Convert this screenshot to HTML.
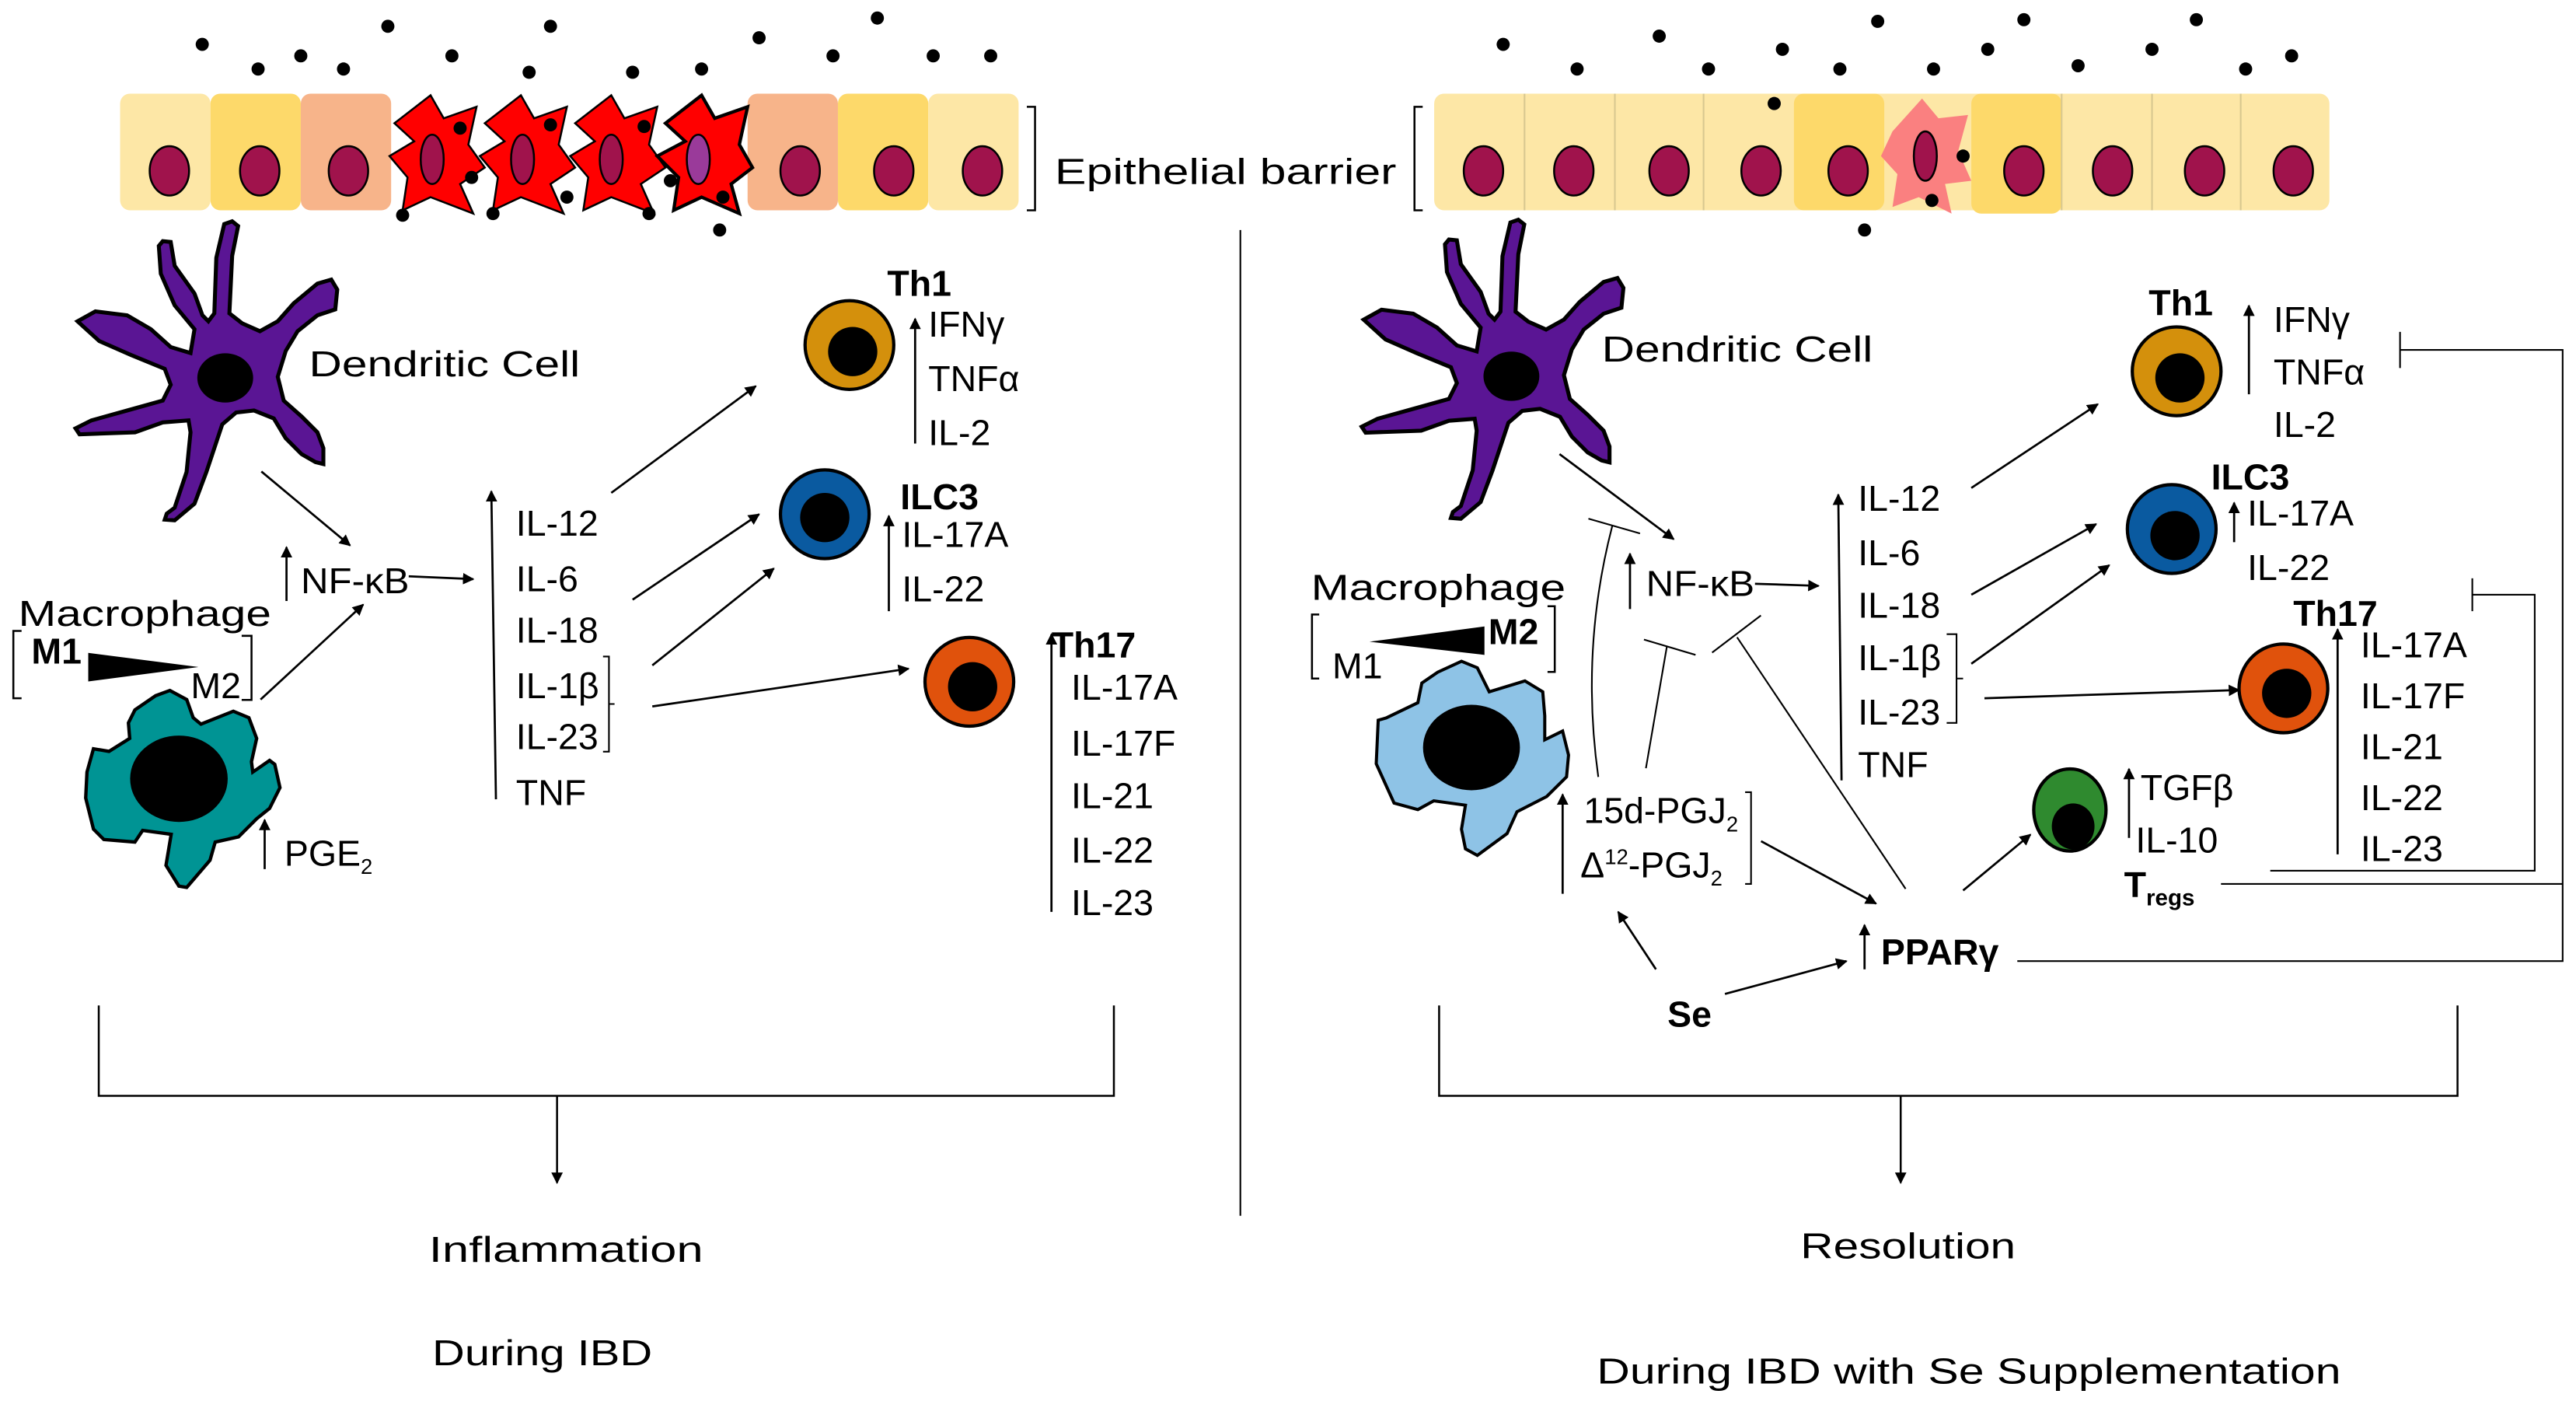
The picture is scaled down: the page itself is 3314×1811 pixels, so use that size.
<!DOCTYPE html>
<html><head><style>
html,body{margin:0;padding:0;background:#fff;}
svg{display:block;}
text{font-family:"Liberation Sans","DejaVu Sans",sans-serif;font-size:22px;fill:#000;}
.b{font-weight:bold;}
</style></head><body>
<svg width="3314" height="1811" viewBox="0 0 1568 857" xmlns="http://www.w3.org/2000/svg">
<defs>
<marker id="a" viewBox="0 0 10 10" refX="9" refY="5" markerWidth="7" markerHeight="7" orient="auto-start-reverse" markerUnits="userSpaceOnUse"><path d="M0,0L10,5L0,10z" fill="#000"/></marker>
<path id="dc" d="M585,68 L600,80 L585,155 L578,300 L610,325 L655,345 L700,320 L740,275 L800,225 L835,215 L850,240 L845,290 L800,305 L750,345 L720,395 L700,460 L715,520 L760,560 L800,600 L815,640 L815,680 L795,675 L760,655 L720,615 L690,565 L640,545 L595,550 L560,580 L520,700 L490,780 L440,822 L415,820 L420,805 L440,790 L470,700 L480,600 L475,570 L410,575 L340,600 L200,605 L190,590 L230,570 L320,545 L410,520 L430,480 L415,440 L330,405 L250,370 L195,320 L240,295 L320,305 L380,340 L430,385 L480,400 L490,340 L440,280 L405,200 L400,130 L410,118 L430,120 L440,180 L490,250 L510,305 L525,320 L540,300 L545,160 L565,75z"/>
</defs>
<g stroke="#000" stroke-width="1.2">
<rect x="73" y="57" width="55" height="71" rx="6" fill="#fde7a6" stroke="none"/>
<rect x="128" y="57" width="55" height="71" rx="6" fill="#fdd96a" stroke="none"/>
<rect x="183" y="57" width="55" height="71" rx="6" fill="#f7b48a" stroke="none"/>
<rect x="455" y="57" width="55" height="71" rx="6" fill="#f7b48a" stroke="none"/>
<rect x="510" y="57" width="55" height="71" rx="6" fill="#fdd96a" stroke="none"/>
<rect x="565" y="57" width="55" height="71" rx="6" fill="#fde7a6" stroke="none"/>
<g fill="#ff0000">
<path d="M240,75 L262,58 L270,72 L290,65 L285,88 L295,102 L280,112 L288,130 L262,120 L245,128 L248,108 L237,95 L252,86z"/>
<path d="M295,75 L317,58 L325,72 L345,65 L340,88 L350,102 L335,112 L343,130 L317,120 L300,128 L303,108 L292,95 L307,86z"/>
<path d="M350,75 L372,58 L380,72 L400,65 L395,88 L405,102 L390,112 L398,130 L372,120 L355,128 L358,108 L347,95 L362,86z"/>
<path d="M405,75 L427,58 L435,72 L455,65 L450,88 L458,102 L445,112 L450,130 L427,120 L410,128 L413,108 L400,95 L417,86z" stroke-width="2"/>
</g>
<g fill="#a0134c">
<ellipse cx="103" cy="104" rx="12" ry="15"/><ellipse cx="158" cy="104" rx="12" ry="15"/><ellipse cx="212" cy="104" rx="12" ry="15"/>
<ellipse cx="263" cy="97" rx="7" ry="15"/><ellipse cx="318" cy="97" rx="7" ry="15"/><ellipse cx="372" cy="97" rx="7" ry="15"/><ellipse cx="425" cy="97" rx="7" ry="15" fill="#9a3a9a"/>
<ellipse cx="487" cy="104" rx="12" ry="15"/><ellipse cx="544" cy="104" rx="12" ry="15"/><ellipse cx="598" cy="104" rx="12" ry="15"/>
</g>
<rect x="873" y="57" width="545" height="71" rx="6" fill="#fde7a6" stroke="none"/>
<rect x="1092" y="57" width="55" height="71" rx="6" fill="#fdd96a" stroke="none"/>
<rect x="1200" y="57" width="55" height="73" rx="6" fill="#fdd96a" stroke="none"/>
<g stroke="#d8c890" stroke-width="1"><path d="M928,57V128M983,57V128M1037,57V128M1310,57V128M1364,57V128M1255,57V128"/></g>
<path d="M1152,80 L1170,60 L1180,72 L1198,70 L1192,92 L1200,110 L1184,112 L1188,130 L1168,120 L1152,126 L1155,106 L1145,95z" fill="#fa8080" stroke="none"/>
<g fill="#a0134c">
<ellipse cx="903" cy="104" rx="12" ry="15"/><ellipse cx="958" cy="104" rx="12" ry="15"/><ellipse cx="1016" cy="104" rx="12" ry="15"/><ellipse cx="1072" cy="104" rx="12" ry="15"/><ellipse cx="1125" cy="104" rx="12" ry="15"/>
<ellipse cx="1172" cy="95" rx="7" ry="15"/>
<ellipse cx="1232" cy="104" rx="12" ry="15"/><ellipse cx="1286" cy="104" rx="12" ry="15"/><ellipse cx="1342" cy="104" rx="12" ry="15"/><ellipse cx="1396" cy="104" rx="12" ry="15"/>
</g>
<path d="M625,65 H630 V128 H625" fill="none"/>
<path d="M866,65 H861 V128 H866" fill="none"/>
</g>
<g fill="#000">
<circle cx="123" cy="27" r="4"/><circle cx="183" cy="34" r="4"/><circle cx="236" cy="16" r="4"/><circle cx="157" cy="42" r="4"/><circle cx="209" cy="42" r="4"/><circle cx="275" cy="34" r="4"/><circle cx="322" cy="44" r="4"/><circle cx="385" cy="44" r="4"/><circle cx="335" cy="16" r="4"/><circle cx="427" cy="42" r="4"/><circle cx="507" cy="34" r="4"/><circle cx="568" cy="34" r="4"/><circle cx="603" cy="34" r="4"/><circle cx="534" cy="11" r="4"/><circle cx="462" cy="23" r="4"/>
<circle cx="245" cy="131" r="4"/><circle cx="300" cy="130" r="4"/><circle cx="345" cy="120" r="4"/><circle cx="395" cy="130" r="4"/><circle cx="438" cy="140" r="4"/><circle cx="440" cy="120" r="4"/><circle cx="280" cy="78" r="4"/><circle cx="335" cy="76" r="4"/><circle cx="287" cy="108" r="4"/><circle cx="392" cy="77" r="4"/><circle cx="408" cy="110" r="4"/>
<circle cx="915" cy="27" r="4"/><circle cx="960" cy="42" r="4"/><circle cx="1010" cy="22" r="4"/><circle cx="1040" cy="42" r="4"/><circle cx="1085" cy="30" r="4"/><circle cx="1120" cy="42" r="4"/><circle cx="1177" cy="42" r="4"/><circle cx="1210" cy="30" r="4"/><circle cx="1265" cy="40" r="4"/><circle cx="1310" cy="30" r="4"/><circle cx="1337" cy="12" r="4"/><circle cx="1367" cy="42" r="4"/><circle cx="1395" cy="34" r="4"/><circle cx="1143" cy="13" r="4"/><circle cx="1232" cy="12" r="4"/><circle cx="1080" cy="63" r="4"/><circle cx="1176" cy="122" r="4"/><circle cx="1195" cy="95" r="4"/><circle cx="1135" cy="140" r="4"/>
</g>
<text x="642" y="112" font-size="25" textLength="208" lengthAdjust="spacingAndGlyphs">Epithelial barrier</text>
<line x1="755" y1="140" x2="755" y2="740" stroke="#000" stroke-width="1"/>

<!-- LEFT dendritic cell -->
<use href="#dc" transform="translate(0,118.3) scale(0.2414)" fill="#5a1594" stroke="#000" stroke-width="10"/>
<ellipse cx="137" cy="230" rx="17" ry="15" fill="#000"/>
<text x="188" y="229" font-size="25" textLength="165" lengthAdjust="spacingAndGlyphs">Dendritic Cell</text>
<line x1="159" y1="287" x2="213" y2="332" stroke="#000" stroke-width="1.3" marker-end="url(#a)"/>
<!-- macrophage left -->
<text x="11" y="381" font-size="25" textLength="154" lengthAdjust="spacingAndGlyphs">Macrophage</text>
<path d="M13,384 H8 V425 H13" fill="none" stroke="#000" stroke-width="1.2"/>
<path d="M147,387 H153 V426 H147" fill="none" stroke="#000" stroke-width="1.2"/>
<text x="19" y="404" font-size="21" class="b">M1</text>
<path d="M53.6,397.4 L53.6,414.8 L120.7,406z" fill="#000"/>
<text x="116" y="425" font-size="21">M2</text>
<path transform="translate(0,350.1) scale(0.1577)" d="M360,670 L420,680 L500,630 L495,570 L520,520 L600,465 L655,445 L720,480 L745,550 L775,575 L900,525 L960,550 L990,630 L970,720 L975,760 L1040,715 L1060,730 L1080,820 L1040,900 L990,940 L920,1010 L830,1030 L810,1100 L720,1205 L690,1200 L640,1120 L660,1000 L550,985 L520,1030 L400,1020 L360,980 L330,860 L335,760z" fill="#009494" stroke="#000" stroke-width="13"/>
<ellipse cx="108.8" cy="474" rx="29.7" ry="26.3" fill="#000"/>
<line x1="161" y1="529" x2="161" y2="499" stroke="#000" stroke-width="1.3" marker-end="url(#a)"/>
<text x="173" y="527" font-size="22">PGE<tspan font-size="13" dy="5">2</tspan></text>
<line x1="158.5" y1="425.8" x2="221" y2="368" stroke="#000" stroke-width="1.3" marker-end="url(#a)"/>
<line x1="174.3" y1="365.8" x2="174.3" y2="333" stroke="#000" stroke-width="1.3" marker-end="url(#a)"/>
<text x="183" y="361" font-size="22" textLength="66" lengthAdjust="spacingAndGlyphs">NF-κB</text>
<line x1="248.7" y1="350.8" x2="288" y2="352.5" stroke="#000" stroke-width="1.3" marker-end="url(#a)"/>
<line x1="301.8" y1="486.5" x2="299" y2="299" stroke="#000" stroke-width="1.3" marker-end="url(#a)"/>
<g font-size="22"><text x="314" y="326">IL-12</text><text x="314" y="360">IL-6</text><text x="314" y="391">IL-18</text><text x="314" y="425">IL-1β</text><text x="314" y="456">IL-23</text><text x="314" y="490">TNF</text></g>
<path d="M367,399.6 H370.6 V457.5 H367 M370.6,428.5 H374" fill="none" stroke="#000" stroke-width="1"/>
<g stroke="#000" stroke-width="1.3" marker-end="url(#a)">
<line x1="372" y1="300" x2="460" y2="235"/>
<line x1="385" y1="365" x2="462" y2="313"/>
<line x1="397" y1="405" x2="471" y2="346"/>
<line x1="397" y1="430" x2="553" y2="407"/>
</g>
<circle cx="517" cy="210" r="27" fill="#d4900c" stroke="#000" stroke-width="2"/><circle cx="519" cy="214" r="15" fill="#000"/>
<text x="540" y="180" font-size="22" class="b">Th1</text>
<line x1="557" y1="270" x2="557" y2="194" stroke="#000" stroke-width="1.3" marker-end="url(#a)"/>
<g font-size="22"><text x="565" y="205">IFNγ</text><text x="565" y="238">TNFα</text><text x="565" y="271">IL-2</text></g>
<circle cx="502" cy="313" r="27" fill="#0a5aa0" stroke="#000" stroke-width="2"/><circle cx="502" cy="315" r="15" fill="#000"/>
<text x="548" y="310" font-size="22" class="b">ILC3</text>
<line x1="541" y1="372" x2="541" y2="314" stroke="#000" stroke-width="1.3" marker-end="url(#a)"/>
<g font-size="22"><text x="549" y="333">IL-17A</text><text x="549" y="366">IL-22</text></g>
<circle cx="590" cy="415" r="27" fill="#e0520c" stroke="#000" stroke-width="2"/><circle cx="592" cy="418" r="15" fill="#000"/>
<text x="640" y="400" font-size="22" class="b">Th17</text>
<line x1="640" y1="555" x2="640" y2="386" stroke="#000" stroke-width="1.3" marker-end="url(#a)"/>
<g font-size="22"><text x="652" y="426">IL-17A</text><text x="652" y="460">IL-17F</text><text x="652" y="492">IL-21</text><text x="652" y="525">IL-22</text><text x="652" y="557">IL-23</text></g>
<path d="M60,612 V667 H678 V612" fill="none" stroke="#000" stroke-width="1.2"/>
<line x1="339" y1="667" x2="339" y2="720" stroke="#000" stroke-width="1.2" marker-end="url(#a)"/>
<text x="261" y="768" font-size="25" textLength="167" lengthAdjust="spacingAndGlyphs">Inflammation</text>
<text x="263" y="831" font-size="25" textLength="134" lengthAdjust="spacingAndGlyphs">During IBD</text>

<!-- RIGHT -->
<use href="#dc" transform="translate(783,117.3) scale(0.2414)" fill="#5a1594" stroke="#000" stroke-width="10"/>
<ellipse cx="920" cy="229" rx="17" ry="15" fill="#000"/>
<text x="975" y="220" font-size="25" textLength="165" lengthAdjust="spacingAndGlyphs">Dendritic Cell</text>
<line x1="949.3" y1="276.4" x2="1018.8" y2="328.2" stroke="#000" stroke-width="1.3" marker-end="url(#a)"/>
<text x="798" y="365" font-size="25" textLength="155" lengthAdjust="spacingAndGlyphs">Macrophage</text>
<path d="M803,374 H798.6 V413 H803" fill="none" stroke="#000" stroke-width="1.2"/>
<path d="M942,369 H946.4 V409 H942" fill="none" stroke="#000" stroke-width="1.2"/>
<text x="811" y="413" font-size="21">M1</text>
<path d="M833.6,390.6 L903.6,381.3 L903.6,398.6z" fill="#000"/>
<text x="906" y="392" font-size="21" class="b">M2</text>
<path transform="translate(766.5,127.7) scale(0.2414,0.2655)" d="M300,1170 L320,1165 L400,1130 L410,1085 L450,1060 L510,1035 L550,1050 L580,1105 L670,1080 L715,1105 L720,1160 L720,1215 L765,1195 L780,1250 L775,1300 L725,1345 L650,1380 L625,1430 L550,1480 L520,1465 L510,1420 L520,1365 L440,1355 L400,1375 L340,1360 L310,1300 L295,1270z" fill="#8ec3e6" stroke="#000" stroke-width="4" vector-effect="non-scaling-stroke"/>
<ellipse cx="895.7" cy="455" rx="29.5" ry="26" fill="#000"/>
<path d="M972.9,472.9 Q962,395 981.4,320.2" fill="none" stroke="#000" stroke-width="1"/>
<line x1="966.9" y1="315.7" x2="998.3" y2="324.7" stroke="#000" stroke-width="1"/>
<line x1="1001.9" y1="467.6" x2="1014.7" y2="393.2" stroke="#000" stroke-width="1"/>
<line x1="1000.7" y1="389.3" x2="1032.1" y2="398.6" stroke="#000" stroke-width="1"/>
<line x1="1160" y1="541" x2="1057.4" y2="387.9" stroke="#000" stroke-width="1"/>
<line x1="1042.2" y1="397.2" x2="1071.9" y2="374.6" stroke="#000" stroke-width="1"/>
<line x1="992.2" y1="370.7" x2="992.2" y2="337" stroke="#000" stroke-width="1.3" marker-end="url(#a)"/>
<text x="1002" y="362.7" font-size="22" textLength="66" lengthAdjust="spacingAndGlyphs">NF-κB</text>
<line x1="1068.3" y1="355.3" x2="1107" y2="356.6" stroke="#000" stroke-width="1.3" marker-end="url(#a)"/>
<line x1="1121" y1="475" x2="1119" y2="301" stroke="#000" stroke-width="1.3" marker-end="url(#a)"/>
<g font-size="22"><text x="1131" y="311">IL-12</text><text x="1131" y="344">IL-6</text><text x="1131" y="376">IL-18</text><text x="1131" y="408">IL-1β</text><text x="1131" y="441">IL-23</text><text x="1131" y="473">TNF</text></g>
<path d="M1185,386 H1191 V440 H1185 M1191,413 H1195" fill="none" stroke="#000" stroke-width="1"/>
<g stroke="#000" stroke-width="1.3" marker-end="url(#a)">
<line x1="1200" y1="297" x2="1277" y2="246"/>
<line x1="1200" y1="362" x2="1276" y2="319"/>
<line x1="1200" y1="404" x2="1284" y2="344"/>
<line x1="1208" y1="425" x2="1363" y2="420"/>
</g>
<circle cx="1325" cy="226" r="27" fill="#d4900c" stroke="#000" stroke-width="2"/><circle cx="1327" cy="230" r="15" fill="#000"/>
<text x="1308" y="192" font-size="22" class="b">Th1</text>
<line x1="1369" y1="240" x2="1369" y2="186" stroke="#000" stroke-width="1.3" marker-end="url(#a)"/>
<g font-size="21"><text x="1384" y="202">IFNγ</text><text x="1384" y="234">TNFα</text><text x="1384" y="266">IL-2</text></g>
<circle cx="1322" cy="322" r="27" fill="#0a5aa0" stroke="#000" stroke-width="2"/><circle cx="1324" cy="326" r="15" fill="#000"/>
<text x="1346" y="298" font-size="22" class="b">ILC3</text>
<line x1="1360" y1="330" x2="1360" y2="306" stroke="#000" stroke-width="1.3" marker-end="url(#a)"/>
<g font-size="21"><text x="1368" y="320">IL-17A</text><text x="1368" y="353">IL-22</text></g>
<circle cx="1390" cy="419" r="27" fill="#e0520c" stroke="#000" stroke-width="2"/><circle cx="1392" cy="422" r="15" fill="#000"/>
<text x="1396" y="381" font-size="22" class="b">Th17</text>
<line x1="1423" y1="520" x2="1423" y2="383" stroke="#000" stroke-width="1.3" marker-end="url(#a)"/>
<g font-size="20"><text x="1437" y="400">IL-17A</text><text x="1437" y="431">IL-17F</text><text x="1437" y="462">IL-21</text><text x="1437" y="493">IL-22</text><text x="1437" y="524">IL-23</text></g>
<ellipse cx="1260" cy="493" rx="22" ry="25" fill="#2f8a2f" stroke="#000" stroke-width="2"/><ellipse cx="1262" cy="503" rx="13" ry="14" fill="#000"/>
<line x1="1296" y1="510" x2="1296" y2="468" stroke="#000" stroke-width="1.3" marker-end="url(#a)"/>
<text x="1303" y="487" font-size="22">TGFβ</text>
<text x="1300" y="519" font-size="22">IL-10</text>
<text x="1293" y="546" font-size="21" class="b">T<tspan font-size="14" dy="5">regs</tspan></text>
<line x1="951.2" y1="544" x2="951.2" y2="483.5" stroke="#000" stroke-width="1.3" marker-end="url(#a)"/>
<text x="964" y="501" font-size="22">15d-PGJ<tspan font-size="13" dy="5">2</tspan></text>
<text x="962" y="534" font-size="22">Δ<tspan font-size="13" dy="-8">12</tspan><tspan dy="8">-PGJ</tspan><tspan font-size="13" dy="5">2</tspan></text>
<path d="M1062.3,482.2 H1065.9 V538 H1062.3" fill="none" stroke="#000" stroke-width="1"/>
<line x1="1072" y1="512" x2="1142" y2="550" stroke="#000" stroke-width="1.3" marker-end="url(#a)"/>
<line x1="1008" y1="590" x2="985" y2="555" stroke="#000" stroke-width="1.3" marker-end="url(#a)"/>
<line x1="1050" y1="605" x2="1124" y2="585" stroke="#000" stroke-width="1.3" marker-end="url(#a)"/>
<text x="1015" y="625" font-size="23" class="b">Se</text>
<line x1="1135" y1="590" x2="1135" y2="563" stroke="#000" stroke-width="1.3" marker-end="url(#a)"/>
<text x="1145" y="587" font-size="22" class="b">PPARγ</text>
<line x1="1195" y1="542" x2="1236" y2="508" stroke="#000" stroke-width="1.3" marker-end="url(#a)"/>
<path d="M1228,585 H1560 V213 H1461" fill="none" stroke="#000" stroke-width="1"/>
<line x1="1461" y1="202" x2="1461" y2="224" stroke="#000" stroke-width="1"/>
<path d="M1352,538 H1560" fill="none" stroke="#000" stroke-width="1"/>
<path d="M1382,530 H1543 V362 H1505" fill="none" stroke="#000" stroke-width="1"/>
<line x1="1505" y1="352" x2="1505" y2="372" stroke="#000" stroke-width="1"/>
<path d="M876,612 V667 H1496 V612" fill="none" stroke="#000" stroke-width="1.2"/>
<line x1="1157" y1="667" x2="1157" y2="720" stroke="#000" stroke-width="1.2" marker-end="url(#a)"/>
<text x="1096" y="766" font-size="25" textLength="131" lengthAdjust="spacingAndGlyphs">Resolution</text>
<text x="972" y="842" font-size="25" textLength="453" lengthAdjust="spacingAndGlyphs">During IBD with Se Supplementation</text>
</svg>
</body></html>
